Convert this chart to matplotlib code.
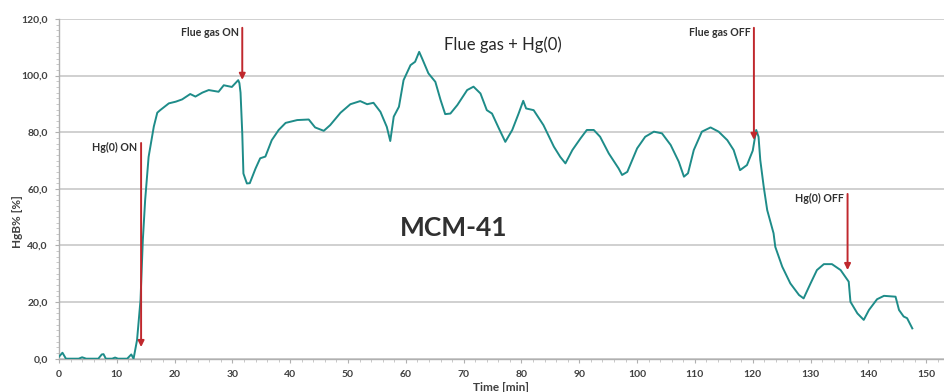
import matplotlib
matplotlib.use("Agg")
import matplotlib.pyplot as plt
from matplotlib.ticker import MultipleLocator, FuncFormatter

# Breakthrough curve of MCM-41: time [min] vs. HgB% [%]
time_min = [
    0.0, 0.6, 1.2, 3.4, 4.0, 4.3, 4.7, 6.8, 7.4, 7.7, 8.1, 9.2, 9.7, 10.2,
    11.8, 12.5, 12.9, 13.5, 14.1, 14.5, 14.9, 15.5, 16.1, 16.4, 17.0, 17.5,
    19.0, 20.2, 21.3, 22.7, 23.6, 24.8, 25.9, 27.6, 28.5, 29.9, 31.0, 31.2,
    31.4, 31.7, 31.9, 32.5, 33.0, 34.0, 34.8, 35.7, 36.8, 38.0, 39.2, 41.2,
    43.2, 44.3, 45.8, 46.9, 48.7, 50.4, 52.1, 53.3, 54.4, 55.6, 56.7, 57.3,
    57.9, 58.8, 59.6, 60.8, 61.6, 62.3, 62.8, 63.9, 65.1, 66.0, 66.8, 67.7,
    68.9, 70.6, 71.7, 72.9, 74.0, 74.9, 76.1, 77.2, 78.4, 79.5, 80.3, 80.8,
    82.1, 83.8, 85.6, 86.7, 87.6, 88.8, 90.2, 91.3, 92.5, 93.6, 95.1, 96.8,
    97.4, 98.3, 100.0, 101.4, 102.9, 104.3, 105.8, 107.2, 108.1, 108.8,
    109.8, 111.2, 112.7, 114.1, 115.6, 116.7, 117.8, 119.0, 120.0, 120.6,
    121.0, 121.3, 121.9, 122.5, 123.6, 123.9, 125.1, 126.5, 128.0, 128.8,
    130.0, 131.1, 132.3, 133.7, 135.2, 136.6, 136.9, 138.1, 139.2, 140.1,
    141.5, 142.7, 144.7, 145.3, 146.1, 146.7, 147.6,
]
hgb_pct = [
    0.7, 2.1, 0.0, 0.0, 0.5, 0.3, 0.0, 0.0, 1.5, 1.6, 0.0, 0.0, 0.4, 0.0,
    0.0, 1.5, 0.0, 6.6, 20.7, 41.9, 56.0, 71.3, 78.4, 82.0, 86.9, 87.8,
    90.2, 90.8, 91.6, 93.5, 92.6, 94.0, 94.9, 94.3, 96.6, 96.0, 98.4, 97.4,
    94.0, 79.6, 65.4, 61.9, 62.0, 67.2, 70.8, 71.4, 77.2, 80.8, 83.3, 84.3,
    84.5, 81.7, 80.5, 82.5, 86.9, 89.9, 91.0, 89.9, 90.4, 87.2, 81.9, 76.9,
    85.5, 89.0, 98.4, 103.7, 104.9, 108.4, 106.1, 100.8, 97.8, 91.4, 86.4,
    86.6, 89.6, 94.9, 96.1, 93.7, 87.8, 86.6, 81.3, 76.6, 80.8, 86.6, 91.1,
    88.4, 87.8, 82.5, 74.9, 71.3, 69.0, 73.7, 77.8, 80.8, 80.8, 78.4, 72.5,
    67.2, 64.9, 66.0, 74.3, 78.4, 80.2, 79.6, 75.5, 69.6, 64.3, 65.5, 73.7,
    80.2, 81.7, 80.2, 77.2, 73.7, 66.6, 68.4, 73.5, 80.8, 78.4, 70.2, 60.7,
    52.5, 44.3, 39.5, 32.5, 26.6, 22.5, 21.3, 26.6, 31.3, 33.4, 33.4, 31.3,
    27.2, 20.1, 16.0, 13.7, 17.2, 21.0, 22.2, 21.9, 17.2, 14.9, 14.3, 10.7,
]

# Event markers: label, time, arrow start / end values
event_labels = ["Hg(0) ON", "Flue gas ON", "Flue gas OFF", "Hg(0) OFF"]
event_times = [14.2, 31.7, 120.2, 136.4]
arrow_from = [76.2, 116.9, 116.9, 58.2]
arrow_to = [4.1, 98.5, 77.3, 31.3]

x_ticks = list(range(0, 151, 10))
y_ticks = list(range(0, 121, 20))

plt.rcParams["font.family"] = ["Lato", "DejaVu Sans"]

fig = plt.figure(figsize=(9.44, 3.92), dpi=100)
ax = fig.add_axes([0.0625, 0.085, 0.937, 0.8665])

grid_col = "#c8c8c8"
text_col = "#404040"
ax.set_xlim(0, 153)
ax.set_ylim(0, 120)
ax.set_yticks(y_ticks)
ax.set_xticks(x_ticks)
ax.yaxis.set_minor_locator(MultipleLocator(2))
ax.xaxis.set_minor_locator(MultipleLocator(2))
ax.yaxis.set_major_formatter(FuncFormatter(lambda v, p: f"{v:.1f}".replace(".", ",")))
ax.grid(axis="y", color=grid_col, linewidth=1.2)
ax.set_axisbelow(True)
for s in ("top", "right"):
    ax.spines[s].set_visible(False)
for s in ("left", "bottom"):
    ax.spines[s].set_color("#b0b0b0")
    ax.spines[s].set_linewidth(1.0)
ax.tick_params(axis="both", which="major", length=3, color="#b0b0b0",
               labelsize=7.5, labelcolor=text_col, pad=5)
ax.tick_params(axis="both", which="minor", length=2, color="#c0c0c0")
for lbl in ax.get_xticklabels() + ax.get_yticklabels():
    lbl.set_fontweight("bold")

ax.plot(time_min, hgb_pct, color="#1e8c89", linewidth=1.4, zorder=3)

arrow_col = "#c0282d"
for lab, t, y0, y1 in zip(event_labels, event_times, arrow_from, arrow_to):
    ax.annotate("", xy=(t, y1), xytext=(t, y0),
                arrowprops=dict(arrowstyle="-|>", color=arrow_col, lw=1.4,
                                mutation_scale=9, shrinkA=0, shrinkB=0),
                zorder=4)
    ax.text(t - 0.6, y0 - 1.5, lab, ha="right", va="center", fontsize=7.7,
            fontweight="bold", color="#303030")

ax.text(76.7, 110.8, "Flue gas + Hg(0)", ha="center", va="center",
        fontsize=12, color="#282828")
ax.text(68.2, 46.1, "MCM-41", ha="center", va="center", fontsize=19,
        fontweight="bold", color="#303030")

ax.set_xlabel("Time [min]", fontsize=8.5, fontweight="bold", color=text_col,
              labelpad=2)
fig.text(0.019, 0.435, "HgB% [%]", rotation=90, ha="center", va="center",
         fontsize=8.5, fontweight="bold", color=text_col)

fig.savefig("out.png", dpi=100, facecolor="white")
